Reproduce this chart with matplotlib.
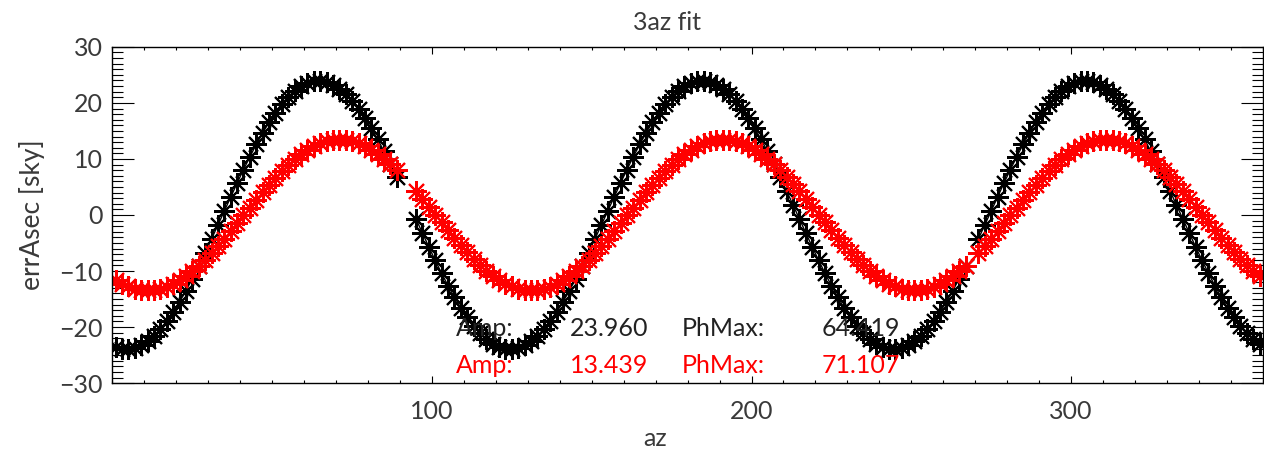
import numpy as np
import matplotlib
matplotlib.use("Agg")
import matplotlib.pyplot as plt
from matplotlib.ticker import MultipleLocator, FixedLocator

# Azimut de cada punto (paso de 2 grados), con huecos donde no hay datos.
az = np.arange(1, 360, 2)
nan = np.nan

# Error en arcsec, serie negra (un valor por cada az).
err_black = [
    -23.58, -23.89, -23.95, -23.74, -23.27, -22.55, -21.58, -20.38, -18.95, -17.31,
    -15.48, -13.49, -11.34, -9.08, -6.71, -4.27, -1.78, 0.73, 3.23, 5.69,
    8.09, 10.40, 12.60, 14.66, 16.56, 18.28, 19.80, 21.10, 22.17, 23.00,
    23.58, 23.89, 23.95, 23.74, 23.27, 22.55, 21.58, 20.38, 18.95, 17.31,
    15.48, 13.49, 11.34, 9.08, 6.71, nan, nan, -0.73, -3.23, -5.69,
    -8.09, -10.40, -12.60, -14.66, -16.56, -18.28, -19.80, -21.10, -22.17, -23.00,
    -23.58, -23.89, -23.95, -23.74, -23.27, -22.55, -21.58, -20.38, -18.95, -17.31,
    -15.48, -13.49, -11.34, -9.08, -6.71, -4.27, -1.78, 0.73, 3.23, 5.69,
    8.09, 10.40, 12.60, 14.66, 16.56, 18.28, 19.80, 21.10, 22.17, 23.00,
    23.58, 23.89, 23.95, 23.74, 23.27, 22.55, 21.58, 20.38, 18.95, 17.31,
    15.48, 13.49, 11.34, 9.08, 6.71, 4.27, 1.78, -0.73, -3.23, -5.69,
    -8.09, -10.40, -12.60, -14.66, -16.56, -18.28, -19.80, -21.10, -22.17, -23.00,
    -23.58, -23.89, -23.95, -23.74, -23.27, -22.55, -21.58, -20.38, -18.95, -17.31,
    -15.48, -13.49, -11.34, -9.08, nan, -4.27, -1.78, 0.73, 3.23, 5.69,
    8.09, 10.40, 12.60, 14.66, 16.56, 18.28, 19.80, 21.10, 22.17, 23.00,
    23.58, 23.89, 23.95, 23.74, 23.27, 22.55, 21.58, 20.38, 18.95, 17.31,
    15.48, 13.49, 11.34, 9.08, 6.71, 4.27, 1.78, -0.73, -3.23, -5.69,
    -8.09, -10.40, -12.60, -14.66, -16.56, -18.28, -19.80, -21.10, -22.17, -23.00,
]

# Error en arcsec, serie roja.
err_red = [
    -11.60, -12.25, -12.76, -13.13, -13.36, -13.44, -13.37, -13.16, -12.81, -12.31,
    -11.68, -10.92, -10.04, -9.05, -7.96, -6.79, -5.54, -4.23, -2.87, -1.48,
    -0.08, 1.33, 2.72, 4.08, 5.40, 6.65, 7.84, 8.93, 9.94, 10.83,
    11.60, 12.25, 12.76, 13.13, 13.36, 13.44, 13.37, 13.16, 12.81, 12.31,
    11.68, 10.92, 10.04, 9.05, 7.96, nan, nan, 4.23, 2.87, 1.48,
    0.08, -1.33, -2.72, -4.08, -5.40, -6.65, -7.84, -8.93, -9.94, -10.83,
    -11.60, -12.25, -12.76, -13.13, -13.36, -13.44, -13.37, -13.16, -12.81, -12.31,
    -11.68, -10.92, -10.04, -9.05, -7.96, -6.79, -5.54, -4.23, -2.87, -1.48,
    -0.08, 1.33, 2.72, 4.08, 5.40, 6.65, 7.84, 8.93, 9.94, 10.83,
    11.60, 12.25, 12.76, 13.13, 13.36, 13.44, 13.37, 13.16, 12.81, 12.31,
    11.68, 10.92, 10.04, 9.05, 7.96, 6.79, 5.54, 4.23, 2.87, 1.48,
    0.08, -1.33, -2.72, -4.08, -5.40, -6.65, -7.84, -8.93, -9.94, -10.83,
    -11.60, -12.25, -12.76, -13.13, -13.36, -13.44, -13.37, -13.16, -12.81, -12.31,
    -11.68, -10.92, -10.04, -9.05, nan, -6.79, -5.54, -4.23, -2.87, -1.48,
    -0.08, 1.33, 2.72, 4.08, 5.40, 6.65, 7.84, 8.93, 9.94, 10.83,
    11.60, 12.25, 12.76, 13.13, 13.36, 13.44, 13.37, 13.16, 12.81, 12.31,
    11.68, 10.92, 10.04, 9.05, 7.96, 6.79, 5.54, 4.23, 2.87, 1.48,
    0.08, -1.33, -2.72, -4.08, -5.40, -6.65, -7.84, -8.93, -9.94, -10.83,
]

fit_black = ("23.960", "64.419")
fit_red = ("13.439", "71.107")
x_ticks = [100, 200, 300]
y_ticks = [-30, -20, -10, 0, 10, 20, 30]

plt.rcParams["font.family"] = ["Lato", "DejaVu Sans"]
txt = "#3a3a3a"
fs = 18

fig = plt.figure(figsize=(12.64, 4.55), dpi=100)
ax = fig.add_axes([0.089, 0.158, 0.910, 0.739])

# Asterisco estilo IDL (8 brazos) con linea fina entre puntos.
ast = (8, 2, 0)
ax.plot(az, err_black, color="black", lw=1.0, marker=ast, ms=15, mew=1.5)
ax.plot(az, err_red, color="red", lw=1.0, marker=ast, ms=15, mew=1.5)

# Resultados del ajuste, en columnas como en el original.
for y, col, (amp, ph) in [(-20.3, "#222222", fit_black), (-26.8, "red", fit_red)]:
    ax.text(107.5, y, "Amp:", color=col, fontsize=fs, va="center", ha="left")
    ax.text(167.6, y, amp, color=col, fontsize=fs, va="center", ha="right")
    ax.text(178.2, y, "PhMax:", color=col, fontsize=fs, va="center", ha="left")
    ax.text(246.5, y, ph, color=col, fontsize=fs, va="center", ha="right")

# Personalizacion
ax.set_xlim(0, 360)
ax.set_ylim(-30, 30)
ax.xaxis.set_major_locator(FixedLocator(x_ticks))
ax.xaxis.set_minor_locator(MultipleLocator(10))
ax.yaxis.set_major_locator(FixedLocator(y_ticks))
ax.yaxis.set_minor_locator(MultipleLocator(1))
ax.tick_params(axis="both", which="both", direction="in", top=True, right=True,
               colors="black", labelcolor=txt, labelsize=fs, width=0.8)
ax.tick_params(axis="x", which="major", length=5, pad=12)
ax.tick_params(axis="x", which="minor", length=2.5)
ax.tick_params(axis="y", which="major", length=16, pad=7)
ax.tick_params(axis="y", which="minor", length=8)
for s in ax.spines.values():
    s.set_linewidth(1.0)

ax.set_title("3az fit", fontsize=fs, color=txt, pad=12, x=0.482)
ax.set_xlabel("az", fontsize=fs, color=txt, labelpad=3, x=0.472)
ax.set_ylabel("errAsec [sky]", fontsize=19, color=txt, labelpad=10)

fig.savefig("out.png", dpi=100)
